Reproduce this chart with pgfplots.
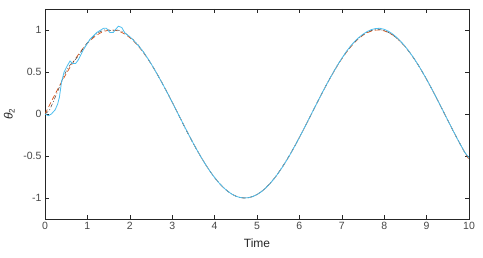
\documentclass[border=0pt]{standalone}
\usepackage{fontspec}
\setmainfont{Liberation Sans}
\usepackage{pgfplots}
\pgfplotsset{compat=1.18}
\usepackage{pgfplotstable}
\definecolor{mcyan}{rgb}{0.301,0.745,0.933}
\definecolor{mred}{rgb}{0.85,0.325,0.098}
\definecolor{mgray}{rgb}{0.15,0.15,0.15}
\definecolor{mdark}{rgb}{0.25,0.25,0.25}
\pgfplotstableread{
t y
0.0 0
0.1 0.0998
0.2 0.1987
0.3 0.2955
0.4 0.3894
0.5 0.4794
0.6 0.5646
0.7 0.6442
0.8 0.7174
0.9 0.7833
1.0 0.8415
1.1 0.8912
1.2 0.9320
1.3 0.9636
1.4 0.9854
1.5 0.9975
1.6 0.9996
1.7 0.9917
1.8 0.9738
1.9 0.9463
2.0 0.9093
2.1 0.8632
2.2 0.8085
2.3 0.7457
2.4 0.6755
2.5 0.5985
2.6 0.5155
2.7 0.4274
2.8 0.3350
2.9 0.2392
3.0 0.1411
3.1 0.0416
3.2 -0.0584
3.3 -0.1577
3.4 -0.2555
3.5 -0.3508
3.6 -0.4425
3.7 -0.5298
3.8 -0.6119
3.9 -0.6878
4.0 -0.7568
4.1 -0.8183
4.2 -0.8716
4.3 -0.9162
4.4 -0.9516
4.5 -0.9775
4.6 -0.9937
4.7 -0.9999
4.8 -0.9962
4.9 -0.9825
5.0 -0.9589
5.1 -0.9258
5.2 -0.8835
5.3 -0.8323
5.4 -0.7728
5.5 -0.7055
5.6 -0.6313
5.7 -0.5507
5.8 -0.4646
5.9 -0.3739
6.0 -0.2794
6.1 -0.1822
6.2 -0.0831
6.3 0.0168
6.4 0.1165
6.5 0.2151
6.6 0.3115
6.7 0.4048
6.8 0.4941
6.9 0.5784
7.0 0.6570
7.1 0.7290
7.2 0.7937
7.3 0.8504
7.4 0.8987
7.5 0.9380
7.6 0.9679
7.7 0.9882
7.8 0.9985
7.9 0.9989
8.0 0.9894
8.1 0.9699
8.2 0.9407
8.3 0.9022
8.4 0.8546
8.5 0.7985
8.6 0.7344
8.7 0.6630
8.8 0.5849
8.9 0.5010
9.0 0.4121
9.1 0.3191
9.2 0.2229
9.3 0.1245
9.4 0.0248
9.5 -0.0752
9.6 -0.1743
9.7 -0.2718
9.8 -0.3665
9.9 -0.4575
10.0 -0.5440
}\reftable
\pgfplotstableread{
t y
0.0 0.0
0.1 0.04
0.2 0.15
0.3 0.27
0.4 0.40
0.5 0.51
0.6 0.59
0.7 0.64
0.8 0.70
0.9 0.78
1.0 0.85
1.1 0.90
1.2 0.95
1.3 0.98
1.4 1.00
1.5 1.00
1.6 0.99
1.7 1.00
1.8 0.99
1.9 0.96
2.0 0.92
2.1 0.875
2.2 0.82
2.3 0.755
2.4 0.68
2.5 0.60
2.6 0.515
2.7 0.425
2.8 0.333
2.9 0.238
3.0 0.140
3.1 0.040
3.2 -0.062
3.3 -0.165
3.4 -0.262
3.5 -0.355
3.6 -0.445
3.7 -0.530
3.8 -0.612
3.9 -0.688
4.0 -0.757
4.1 -0.818
4.2 -0.872
4.3 -0.916
4.4 -0.952
4.5 -0.978
4.6 -0.994
4.7 -1.000
4.8 -0.996
4.9 -0.982
5.0 -0.958
5.1 -0.925
5.2 -0.882
5.3 -0.830
5.4 -0.770
5.5 -0.702
5.6 -0.626
5.7 -0.546
5.8 -0.462
5.9 -0.372
6.0 -0.278
6.1 -0.182
6.2 -0.083
6.3 0.017
6.4 0.117
6.5 0.216
6.6 0.313
6.7 0.408
6.8 0.498
6.9 0.583
7.0 0.662
7.1 0.735
7.2 0.800
7.3 0.858
7.4 0.906
7.5 0.945
7.6 0.975
7.7 0.995
7.8 1.005
7.9 1.004
8.0 0.993
8.1 0.972
8.2 0.942
8.3 0.902
8.4 0.853
8.5 0.797
8.6 0.733
8.7 0.662
8.8 0.585
8.9 0.501
9.0 0.412
9.1 0.319
9.2 0.223
9.3 0.125
9.4 0.025
9.5 -0.075
9.6 -0.174
9.7 -0.272
9.8 -0.366
9.9 -0.457
10.0 -0.530
}\esttable
\pgfplotstableread{
t y
0.00 0.00
0.08 -0.02
0.15 0.00
0.24 0.05
0.30 0.12
0.34 0.20
0.39 0.38
0.45 0.50
0.52 0.57
0.59 0.63
0.65 0.60
0.72 0.60
0.78 0.64
0.90 0.76
1.06 0.89
1.22 0.97
1.38 1.02
1.45 1.02
1.53 0.97
1.61 0.97
1.67 1.01
1.73 1.045
1.81 1.03
1.89 0.96
2.00 0.92
2.10 0.87
2.20 0.815
2.30 0.752
2.40 0.680
2.50 0.600
2.60 0.515
2.70 0.426
2.80 0.333
2.90 0.238
3.00 0.140
3.10 0.041
3.20 -0.059
3.30 -0.158
3.40 -0.256
3.50 -0.351
3.60 -0.443
3.70 -0.530
3.80 -0.612
3.90 -0.688
4.00 -0.757
4.10 -0.818
4.20 -0.872
4.30 -0.916
4.40 -0.952
4.50 -0.978
4.60 -0.994
4.70 -1.000
4.80 -0.996
4.90 -0.983
5.00 -0.959
5.10 -0.926
5.20 -0.884
5.30 -0.832
5.40 -0.773
5.50 -0.706
5.60 -0.631
5.70 -0.551
5.80 -0.465
5.90 -0.374
6.00 -0.279
6.10 -0.182
6.20 -0.083
6.30 0.017
6.40 0.117
6.50 0.215
6.60 0.312
6.70 0.405
6.80 0.496
6.90 0.582
7.00 0.663
7.10 0.738
7.20 0.805
7.30 0.862
7.40 0.910
7.50 0.950
7.60 0.982
7.70 1.005
7.80 1.018
7.90 1.020
8.00 1.008
8.10 0.985
8.20 0.952
8.30 0.910
8.40 0.860
8.50 0.801
8.60 0.736
8.70 0.664
8.80 0.586
8.90 0.502
9.00 0.413
9.10 0.320
9.20 0.223
9.30 0.125
9.40 0.025
9.50 -0.075
9.60 -0.174
9.70 -0.272
9.80 -0.366
9.90 -0.457
10.00 -0.520
}\cyantable
\begin{document}
\begin{tikzpicture}
\begin{axis}[
  scale only axis,
  width=424pt, height=210pt,
  xmin=0, xmax=10, ymin=-1.25, ymax=1.25,
  xtick={0,1,2,3,4,5,6,7,8,9,10},
  ytick={-1,-0.5,0,0.5,1},
  yticklabels={-1,-0.5,0,0.5,1},
  tick align=inside,
  xtick pos=both, ytick pos=both,
  major tick length=4pt,
  axis line style={mgray, line width=0.6pt},
  every tick/.style={mgray, line width=0.6pt},
  tick label style={font=\fontsize{10.5}{12}\selectfont, text=mgray!85},
  /pgf/number format/assume math mode=true,
  xlabel={Time},
  ylabel={\textit{θ}\textsubscript{2}},
  label style={font=\fontsize{12}{14}\selectfont, text=mgray},
  xlabel style={yshift=-2pt},
  ylabel style={yshift=2pt},
  clip=true,
]
\addplot[mred, line width=0.7pt, dash pattern=on 5pt off 3pt] table[x=t,y=y] {\reftable};
\addplot[mdark, line width=0.5pt, dash pattern=on 4pt off 2pt on 1pt off 2pt] table[x=t,y=y] {\esttable};
\addplot[mcyan, line width=0.8pt] table[x=t,y=y] {\cyantable};
\end{axis}
\path[use as bounding box] ([shift={(-45pt,-38pt)}]current axis.south west) rectangle ([shift={(14pt,9pt)}]current axis.north east);
\end{tikzpicture}
\end{document}
